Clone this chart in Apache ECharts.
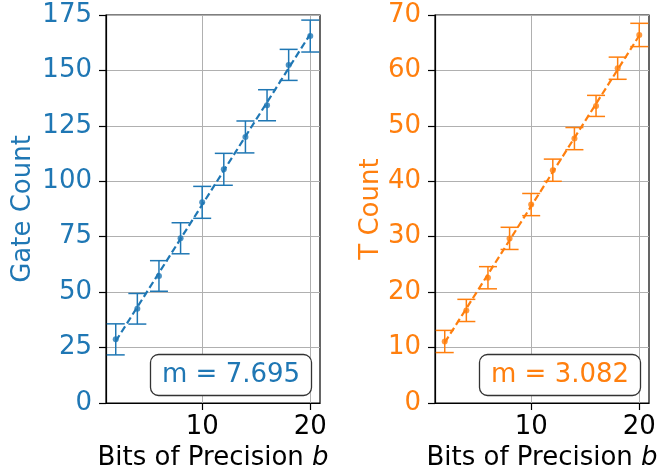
<!DOCTYPE html>
<html>
<head>
<meta charset="utf-8">
<script src="https://cdn.jsdelivr.net/npm/echarts@6/dist/echarts.min.js"></script>
<style>
  html, body { margin: 0; padding: 0; background: #fff; }
  #chart { width: 665px; height: 474px; }
</style>
</head>
<body>
<div id="chart"></div>
<script>
// 数据
const bits = [2, 4, 6, 8, 10, 12, 14, 16, 18, 20];
const gateCount = [28.7, 42.5, 57.3, 74.3, 90.5, 105.4, 120.0, 134.3, 152.5, 165.5];
const gateErr = [7.0, 6.9, 6.9, 7.0, 7.2, 7.2, 7.2, 7.0, 7.0, 7.2];
const tCount = [11.1, 16.7, 22.6, 29.7, 35.8, 42.0, 47.7, 53.6, 60.4, 66.4];
const tErr = [2.0, 2.0, 2.0, 2.0, 2.0, 2.0, 2.0, 1.9, 2.0, 2.1];

// 拟合直线端点
const fitBits = [2, 20];
const gateFit = [27.9, 166.4];
const tFit = [10.9, 66.3];

const xTicks = [10, 20];
const gateSlope = 'm = 7.695';
const tSlope = 'm = 3.082';

const BLUE = '#1f77b4';
const ORANGE = '#ff7f0e';
const FONT = 'DejaVu Sans';

const chart = echarts.init(document.getElementById('chart'));

// 误差棒
function errorBarItem(color) {
    return function (params, api) {
        const x = api.value(0);
        const top = api.coord([x, api.value(2)]);
        const bot = api.coord([x, api.value(1)]);
        const cap = 9;
        const style = { stroke: color, lineWidth: 1.5 };
        return {
            type: 'group',
            children: [
                { type: 'line', shape: { x1: top[0], y1: top[1], x2: bot[0], y2: bot[1] }, style },
                { type: 'line', shape: { x1: top[0] - cap, y1: top[1], x2: top[0] + cap, y2: top[1] }, style },
                { type: 'line', shape: { x1: bot[0] - cap, y1: bot[1], x2: bot[0] + cap, y2: bot[1] }, style }
            ]
        };
    };
}

function xAxisOf(gridIndex) {
    return {
        type: 'value',
        gridIndex,
        min: 1.1,
        max: 20.9,
        name: 'Bits of Precision {i|b}',
        nameLocation: 'middle',
        nameGap: 41,
        nameTextStyle: {
            fontFamily: FONT, fontSize: 26, color: '#000',
            rich: { i: { fontFamily: FONT, fontSize: 26, fontStyle: 'italic', color: '#000' } }
        },
        axisLine: { show: true, onZero: false, lineStyle: { color: '#000', width: 1.2 } },
        axisTick: { show: true, inside: false, length: 7, customValues: xTicks, lineStyle: { color: '#000', width: 1.2 } },
        axisLabel: { customValues: xTicks, fontFamily: FONT, fontSize: 26, color: '#000', margin: 11 },
        splitLine: { show: true, lineStyle: { color: '#b0b0b0', width: 1 } }
    };
}

function yAxisOf(gridIndex, max, interval, name, color, nameGap) {
    return {
        type: 'value',
        gridIndex,
        min: 0,
        max,
        interval,
        name,
        nameLocation: 'middle',
        nameGap,
        nameTextStyle: { fontFamily: FONT, fontSize: 26, color },
        axisLine: { show: true, lineStyle: { color: '#000', width: 1.2 } },
        axisTick: { show: true, inside: false, length: 7, lineStyle: { color: '#000', width: 1.2 } },
        axisLabel: { fontFamily: FONT, fontSize: 26, color, margin: 14 },
        splitLine: { show: true, lineStyle: { color: '#b0b0b0', width: 1 } }
    };
}

function slopeBox(text, color, left) {
    return {
        text,
        left,
        top: 354,
        padding: [8, 12],
        borderColor: '#333',
        borderWidth: 1.3,
        borderRadius: 8,
        backgroundColor: '#fff',
        textStyle: { fontFamily: FONT, fontSize: 26, fontWeight: 'normal', color }
    };
}

const option = {
    animation: false,
    backgroundColor: '#fff',
    title: [slopeBox(gateSlope, BLUE, 150), slopeBox(tSlope, ORANGE, 479)],
    grid: [
        { left: 106, top: 15, width: 214, height: 388, show: true, borderColor: '#000', borderWidth: 1.2, outerBoundsMode: 'none' },
        { left: 435, top: 15, width: 214, height: 388, show: true, borderColor: '#000', borderWidth: 1.2, outerBoundsMode: 'none' }
    ],
    xAxis: [xAxisOf(0), xAxisOf(1)],
    yAxis: [
        yAxisOf(0, 175, 25, 'Gate Count', BLUE, 70),
        yAxisOf(1, 70, 10, 'T Count', ORANGE, 48)
    ],
    series: [
        {
            type: 'custom', xAxisIndex: 0, yAxisIndex: 0,
            renderItem: errorBarItem(BLUE),
            encode: { x: 0, y: [1, 2] },
            data: bits.map((b, i) => [b, gateCount[i] - gateErr[i], gateCount[i] + gateErr[i]]),
            z: 3
        },
        {
            type: 'line', xAxisIndex: 0, yAxisIndex: 0,
            data: fitBits.map((b, i) => [b, gateFit[i]]),
            symbol: 'none',
            lineStyle: { color: BLUE, width: 2.2, type: [7, 3.5] },
            z: 4
        },
        {
            type: 'scatter', xAxisIndex: 0, yAxisIndex: 0,
            data: bits.map((b, i) => [b, gateCount[i]]),
            symbolSize: 6,
            itemStyle: { color: BLUE },
            z: 5
        },
        {
            type: 'custom', xAxisIndex: 1, yAxisIndex: 1,
            renderItem: errorBarItem(ORANGE),
            encode: { x: 0, y: [1, 2] },
            data: bits.map((b, i) => [b, tCount[i] - tErr[i], tCount[i] + tErr[i]]),
            z: 3
        },
        {
            type: 'line', xAxisIndex: 1, yAxisIndex: 1,
            data: fitBits.map((b, i) => [b, tFit[i]]),
            symbol: 'none',
            lineStyle: { color: ORANGE, width: 2.2, type: [7, 3.5] },
            z: 4
        },
        {
            type: 'scatter', xAxisIndex: 1, yAxisIndex: 1,
            data: bits.map((b, i) => [b, tCount[i]]),
            symbolSize: 6,
            itemStyle: { color: ORANGE },
            z: 5
        }
    ]
};

chart.setOption(option);
</script>
</body>
</html>
